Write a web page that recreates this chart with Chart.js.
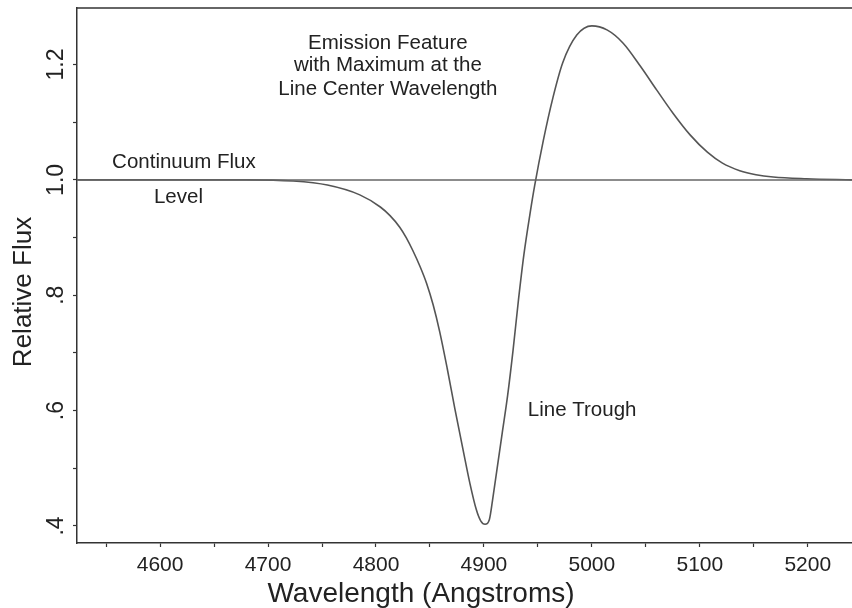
<!DOCTYPE html>
<html><head><meta charset="utf-8">
<script src="https://cdn.jsdelivr.net/npm/chart.js@4/dist/chart.umd.min.js"></script>
<style>html,body{margin:0;padding:0;background:#fff}#wrap{width:852px;height:608px;position:relative}</style>
</head><body><div id="wrap"><canvas id="c"></canvas></div>
<script>
const waveX = [4523,4600,4680,4723,4755,4785,4804,4813,4822,4828,4834,4841,4847,4853,4859,4866,4873,4881,4887,4893,4897,4901,4905,4908,4912,4917,4922,4927,4932,4937,4943,4947,4955,4964,4973,4986,5000,5014,5029,5045,5060,5075,5091,5107,5121,5137,5152,5168,5199,5241];
const fluxY = [1.0,1.0,1.0,0.998,0.991,0.974,0.953,0.938,0.918,0.900,0.878,0.849,0.820,0.783,0.737,0.673,0.604,0.529,0.474,0.428,0.409,0.403,0.411,0.445,0.497,0.562,0.627,0.705,0.792,0.870,0.945,0.990,1.068,1.143,1.203,1.251,1.267,1.260,1.237,1.197,1.156,1.116,1.078,1.048,1.029,1.016,1.009,1.005,1.002,1.000];
const continuumX = [4523,5241];
const continuumY = [1.0,1.0];
const xRange = [4523,5241];
const yRange = [0.3705,1.298];
const yTickLabels = {4:'.4',6:'.6',8:'.8',10:'1.0',12:'1.2'};
const xTitle = 'Wavelength (Angstroms)';
const yTitle = 'Relative Flux';
const notes = [
  {text:'Emission Feature', x:4811, y:1.2365},
  {text:'with Maximum at the', x:4811, y:1.198},
  {text:'Line Center Wavelength', x:4811, y:1.157},
  {text:'Continuum Flux', x:4622, y:1.031},
  {text:'Level', x:4617, y:0.970},
  {text:'Line Trough', x:4991, y:0.600}
];
const FONT = '"Liberation Sans", Arial, sans-serif';
const txt = '#222';
const extras = {
  id:'extras',
  afterDraw(chart){
    const ctx = chart.ctx, xs = chart.scales.x, ys = chart.scales.y, a = chart.chartArea;
    ctx.save();
    ctx.strokeStyle = '#333'; ctx.lineWidth = 1.5;
    ctx.beginPath(); ctx.moveTo(a.left, a.top); ctx.lineTo(a.right, a.top); ctx.stroke();
    ctx.fillStyle = txt; ctx.font = '23px ' + FONT; ctx.textAlign = 'center'; ctx.textBaseline = 'middle';
    ys.ticks.forEach(t => {
      const k = Math.round(t.value*10);
      if (yTickLabels[k]) {
        const py = ys.getPixelForValue(t.value);
        ctx.save(); ctx.translate(57, py); ctx.rotate(-Math.PI/2); ctx.fillText(yTickLabels[k], 0, 0); ctx.restore();
      }
    });
    ctx.font = '26px ' + FONT;
    ctx.save(); ctx.translate(24, 292); ctx.rotate(-Math.PI/2); ctx.fillText(yTitle, 0, 0); ctx.restore();
    ctx.font = '28px ' + FONT;
    ctx.fillText(xTitle, 421, 594);
    ctx.font = '20.5px ' + FONT;
    notes.forEach(n => ctx.fillText(n.text, xs.getPixelForValue(n.x), ys.getPixelForValue(n.y)));
    ctx.restore();
  }
};
new Chart(document.getElementById('c'), {
  type:'line',
  data:{datasets:[
    {data: continuumX.map((x,i)=>({x, y: continuumY[i]})), borderColor:'#666', borderWidth:1.5, pointRadius:0, tension:0},
    {data: waveX.map((x,i)=>({x, y: fluxY[i]})), borderColor:'#555', borderWidth:1.6, pointRadius:0, cubicInterpolationMode:'monotone'}
  ]},
  options:{
    responsive:true, maintainAspectRatio:false, animation:false,
    layout:{padding:{top:8,right:0,left:0,bottom:0}},
    plugins:{legend:{display:false}, tooltip:{enabled:false}},
    scales:{
      x:{type:'linear', min:xRange[0], max:xRange[1],
         border:{display:true,color:'#333',width:1.5},
         grid:{drawOnChartArea:false, drawTicks:true, tickLength:4, tickColor:'#333', tickWidth:1.2},
         ticks:{stepSize:50, includeBounds:false, autoSkip:false, maxRotation:0, color:txt, font:{family:FONT,size:21}, padding:6,
                callback:v => (Math.round(v)%100===0 ? String(Math.round(v)) : '')},
         afterFit: s => { s.height = 65; }
      },
      y:{type:'linear', min:yRange[0], max:yRange[1],
         border:{display:true,color:'#333',width:1.5},
         grid:{drawOnChartArea:false, drawTicks:true, tickLength:4, tickColor:'#333', tickWidth:1.2},
         ticks:{display:false, stepSize:0.1, includeBounds:false},
         afterFit: s => { s.width = 77; }
      }
    }
  },
  plugins:[extras]
});
</script></body></html>
